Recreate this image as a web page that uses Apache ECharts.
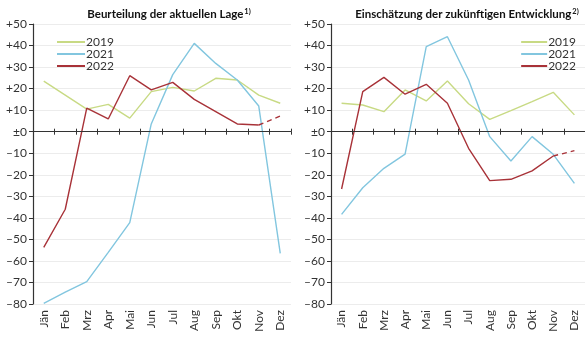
<!DOCTYPE html>
<html><head><meta charset="utf-8">
<script src="https://cdn.jsdelivr.net/npm/echarts@6/dist/echarts.min.js"></script>
<style>html,body{margin:0;padding:0;background:#fff}#c{width:585px;height:337px}</style>
</head><body><div id="c"></div>
<script>
const months = ['Jän','Feb','Mrz','Apr','Mai','Jun','Jul','Aug','Sep','Okt','Nov','Dez'];
const yTicks = {min:-80, max:50, interval:10};
const titleLeft = 'Beurteilung der aktuellen Lage';
const titleRight = 'Einschätzung der zukünftigen Entwicklung';
// Beurteilung der aktuellen Lage
const lage2019 = [23.5, 17, 10.5, 12.7, 6.3, 18.6, 20.6, 18.9, 24.8, 24, 17, 13.2];
const lage2021 = [-79.7, -74.5, -69.6, -56, -42.2, 3.6, 26.5, 41, 31.7, 24, 11.9, -56.5];
const lage2022 = [-53.7, -36, 10.9, 5.9, 26, 19.4, 22.9, 15, 9.3, 3.6, 3.1, null];
const lage2022dash = [null, null, null, null, null, null, null, null, null, null, 3.1, 7.3];
// Einschätzung der zukünftigen Entwicklung
const entw2019 = [13.2, 12.4, 9.3, 19.4, 14.3, 23.5, 13, 5.7, 9.8, 14, 18.3, 7.8];
const entw2021 = [-38.4, -26, -17, -10.4, 39.5, 44.1, 24, -2.3, -13.6, -2.3, -10.5, -24];
const entw2022 = [-26.6, 18.6, 25.2, 17.4, 22, 13.2, -7.7, -22.7, -22.1, -18.2, -11.3, null];
const entw2022dash = [null, null, null, null, null, null, null, null, null, null, -11.3, -8.8];

const C19 = '#c8da84', C21 = '#82c6df', C22 = '#a83238';
const FONT = 'Lato';
const fmt = v => v > 0 ? '+' + v : (v === 0 ? '±0' : '–' + Math.abs(v));

const grids = [
  {left: 33, top: 24, width: 258, height: 280},
  {left: 331, top: 24, width: 257, height: 280}
];
const xAxis = [], yAxis = [];
grids.forEach((g, i) => {
  const yMain = yAxis.length, yAux = yMain + 1;
  xAxis.push({type:'category', data: months, gridIndex:i, boundaryGap:true, position:'bottom',
    axisLine:{show:false, onZero:false}, axisTick:{show:false},
    axisLabel:{rotate:90, color:'#333', fontFamily:FONT, fontSize:12, margin:6}});
  xAxis.push({type:'category', data: months, gridIndex:i, boundaryGap:true, position:'bottom',
    axisLine:{show:true, onZero:true, onZeroAxisIndex:yMain, lineStyle:{color:'#333', width:1.2}},
    axisTick:{show:true, interval:0, length:3, lineStyle:{color:'#333', width:1}},
    axisLabel:{show:false}, z:5});
  xAxis.push({type:'category', data: months, gridIndex:i, boundaryGap:true, position:'top',
    axisLine:{show:false, onZero:true, onZeroAxisIndex:yAux},
    axisTick:{show:true, interval:0, length:3, lineStyle:{color:'#333', width:1}},
    axisLabel:{show:false}, z:5});
  yAxis.push({type:'value', gridIndex:i, min:yTicks.min, max:yTicks.max, interval:yTicks.interval,
    axisLine:{show:true, lineStyle:{color:'#333', width:1.2}},
    axisTick:{show:true, length:4, lineStyle:{color:'#333'}},
    splitLine:{show:true, lineStyle:{color:'#ececec', width:1}},
    axisLabel:{formatter:fmt, color:'#333', fontFamily:FONT, fontSize:12, margin:6}});
  yAxis.push({type:'value', gridIndex:i, min:yTicks.min, max:yTicks.max, interval:yTicks.interval,
    position:'right', show:false, splitLine:{show:false}});
});

function line(name, data, color, xi, yi, dashed) {
  return {name, type:'line', data, xAxisIndex:xi, yAxisIndex:yi, symbol:'none',
    lineStyle:{color, width:1.4, type: dashed ? [5,4] : 'solid'}, itemStyle:{color},
    connectNulls:false, silent:true, animation:false, z: dashed ? 3 : 2};
}

const legendText = {fontFamily:FONT, fontSize:12, color:'#333', padding:[0,0,0,-4]};
const option = {
  animation:false,
  textStyle:{fontFamily:FONT},
  title:[
    {text:'{t|' + titleLeft + '}{s|1)}', left:164, top:3, textAlign:'center',
      textStyle:{rich:{t:{fontFamily:FONT, fontWeight:'bold', fontSize:11.5, color:'#111'},
                       s:{fontFamily:FONT, fontSize:7.5, color:'#111', verticalAlign:'top', padding:[0,0,4,1]}}}},
    {text:'{t|' + titleRight + '}{s|2)}', left:462, top:3, textAlign:'center',
      textStyle:{rich:{t:{fontFamily:FONT, fontWeight:'bold', fontSize:11.5, color:'#111'},
                       s:{fontFamily:FONT, fontSize:7.5, color:'#111', verticalAlign:'top', padding:[0,0,4,1]}}}}
  ],
  legend:[
    {orient:'vertical', left:52, top:31, itemGap:0, itemWidth:28, itemHeight:2, icon:'rect',
      data:['2019','2021','2022'], textStyle:legendText, selectedMode:false},
    {orient:'vertical', right:4, top:31, itemGap:0, itemWidth:26, itemHeight:2, icon:'rect',
      data:['2019','2021','2022'], textStyle:legendText, selectedMode:false}
  ],
  grid: grids,
  xAxis, yAxis,
  series:[
    line('2019', lage2019, C19, 1, 0),
    line('2021', lage2021, C21, 1, 0),
    line('2022', lage2022, C22, 1, 0),
    line('2022d', lage2022dash, C22, 1, 0, true),
    line('2019', entw2019, C19, 4, 2),
    line('2021', entw2021, C21, 4, 2),
    line('2022', entw2022, C22, 4, 2),
    line('2022d', entw2022dash, C22, 4, 2, true)
  ]
};
const chart = echarts.init(document.getElementById('c'), null, {renderer:'canvas'});
chart.setOption(option);
</script></body></html>
